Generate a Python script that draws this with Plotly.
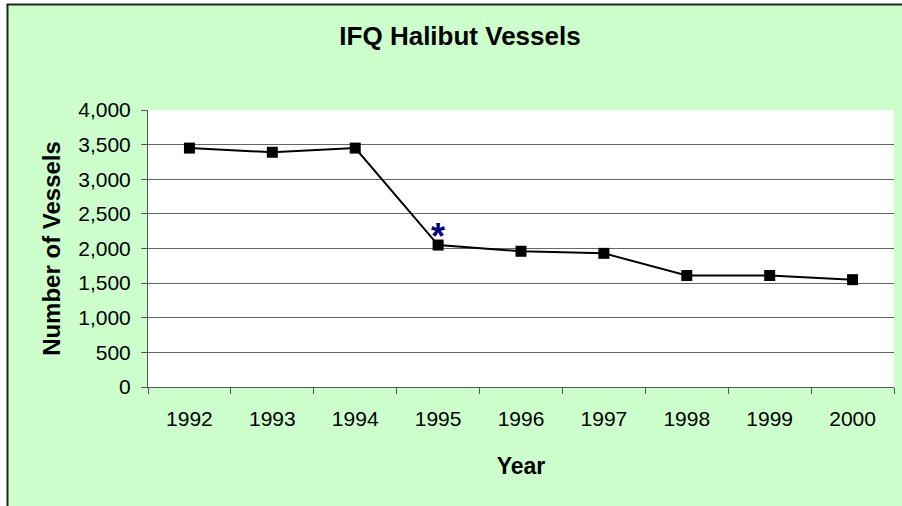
import plotly.graph_objects as go

years = ["1992", "1993", "1994", "1995", "1996", "1997", "1998", "1999", "2000"]
vessels = [3450, 3390, 3450, 2050, 1960, 1930, 1610, 1610, 1550]
y_ticks = [0, 500, 1000, 1500, 2000, 2500, 3000, 3500, 4000]
y_tick_labels = ["0", "500", "1,000", "1,500", "2,000", "2,500", "3,000", "3,500", "4,000"]
note_year = "1995"
note_value = vessels[years.index(note_year)]

W, H = 902, 506
L, R, T, B = 148, 8, 110, 119
PW, PH = W - L - R, H - T - B


def px_x(px):
    return (px - L) / PW


def px_y(py):
    return (H - B - py) / PH


FONT = "Arial, Liberation Sans, sans-serif"
GREEN = "#CCFFCC"

fig = go.Figure()
fig.add_trace(go.Scatter(
    x=years, y=vessels, mode="lines+markers",
    line=dict(color="black", width=2),
    marker=dict(symbol="square", size=11, color="black"),
    cliponaxis=False, showlegend=False, hoverinfo="x+y",
))

fig.add_annotation(
    x=years.index(note_year), y=note_value, text="<b>*</b>", showarrow=False,
    font=dict(family=FONT, size=36, color="#000080"),
    yanchor="middle", xanchor="center", yshift=9, xshift=0,
)

# white outer margin + black border (top and left)
fig.add_shape(type="rect", xref="paper", yref="paper",
              x0=px_x(-5), x1=px_x(7), y0=px_y(H + 5), y1=px_y(-5),
              fillcolor="white", line=dict(width=0), layer="below")
fig.add_shape(type="rect", xref="paper", yref="paper",
              x0=px_x(-5), x1=px_x(W + 5), y0=px_y(4), y1=px_y(-5),
              fillcolor="white", line=dict(width=0), layer="below")
fig.add_shape(type="line", xref="paper", yref="paper",
              x0=px_x(7.5), x1=px_x(7.5), y0=px_y(H + 5), y1=px_y(4.5),
              line=dict(color="#222222", width=2), layer="above")
fig.add_shape(type="line", xref="paper", yref="paper",
              x0=px_x(6.5), x1=px_x(W + 5), y0=px_y(4.5), y1=px_y(4.5),
              line=dict(color="#222222", width=2), layer="above")

fig.update_layout(
    width=W, height=H,
    margin=dict(l=L, r=R, t=T, b=B, pad=0),
    paper_bgcolor=GREEN, plot_bgcolor="white",
    font=dict(family=FONT, color="black"),
    title=dict(text="<b>IFQ Halibut Vessels</b>", x=460 / W, xanchor="center",
               y=1 - 36 / H, yanchor="middle", yref="container",
               font=dict(size=26, family=FONT, color="black")),
    xaxis=dict(
        type="category", tickson="boundaries", ticks="outside", ticklen=6,
        tickcolor="#555555", showgrid=False, showline=True, linecolor="#555555",
        linewidth=1, tickfont=dict(size=21, family=FONT), ticklabelstandoff=13,
        title=dict(text="<b>Year</b>", font=dict(size=23, family=FONT), standoff=28),
        range=[-0.5, len(years) - 0.5],
    ),
    yaxis=dict(
        range=[0, 4000], tickvals=y_ticks, ticktext=y_tick_labels,
        ticks="outside", ticklen=6, tickcolor="#555555",
        showgrid=True, gridcolor="#666666", gridwidth=1,
        showline=True, linecolor="#555555", linewidth=1, zeroline=False,
        tickfont=dict(size=21, family=FONT), ticklabelstandoff=6,
        title=dict(text="<b>Number of Vessels</b>", font=dict(size=24, family=FONT), standoff=10),
    ),
)

fig.write_html("out.html", config={"displayModeBar": False},
               post_script="document.body.style.margin='0';")
